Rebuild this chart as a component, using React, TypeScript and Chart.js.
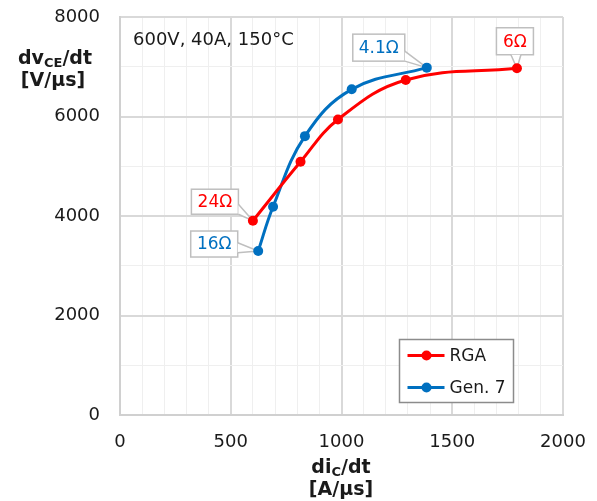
import React, { useEffect, useRef } from "react";
import { Chart, registerables } from "chart.js";

Chart.register(...registerables);

// ---- data ----
const rgaX = [600, 815, 984, 1290, 1792];
const rgaY = [3905, 5090, 5940, 6735, 6970];
const gen7X = [624, 691, 835, 1046, 1385];
const gen7Y = [3296, 4187, 5605, 6546, 6982];
const seriesNames = ["RGA", "Gen. 7"];
const rgaCallouts = ["24Ω", "", "", "", "6Ω"];
const gen7Callouts = ["16Ω", "", "", "", "4.1Ω"];
const xTicks = [0, 500, 1000, 1500, 2000];
const yTicks = [0, 2000, 4000, 6000, 8000];
const conditionText = "600V, 40A, 150°C";

// ---- styles ----
const RED = "#FF0000";
const BLUE = "#0070C0";
const FONT = "'DejaVu Sans', Verdana, sans-serif";
const TEXT = "#1a1a1a";

// callout box placement (offset of box centre from its point, box size)
const calloutLayout: Record<string, { dx: number; dy: number; w: number; h: number }> = {
  "0-0": { dx: -38, dy: -19, w: 47, h: 25 },
  "0-4": { dx: -2, dy: -27, w: 37, h: 27 },
  "1-0": { dx: -44, dy: -7, w: 47, h: 26 },
  "1-4": { dx: -48, dy: -20, w: 52, h: 27 },
};

function drawCallout(ctx: CanvasRenderingContext2D, px: number, py: number, cx: number, cy: number, w: number, h: number, text: string, color: string) {
  const l = cx - w / 2, r = cx + w / 2, t = cy - h / 2, b = cy + h / 2;
  const dx = px - cx, dy = py - cy;
  const sx = dx !== 0 ? (w / 2) / Math.abs(dx) : Infinity;
  const sy = dy !== 0 ? (h / 2) / Math.abs(dy) : Infinity;
  let b1: [number, number], b2: [number, number];
  const half = 5;
  if (sx < sy) {
    const ex = dx > 0 ? r : l;
    let ey = cy + dy * sx;
    ey = Math.min(Math.max(ey, t + half), b - half);
    b1 = [ex, ey - half];
    b2 = [ex, ey + half];
  } else {
    const ey = dy > 0 ? b : t;
    let ex = cx + dx * sy;
    ex = Math.min(Math.max(ex, l + half), r - half);
    b1 = [ex - half, ey];
    b2 = [ex + half, ey];
  }
  ctx.save();
  ctx.lineWidth = 1.5;
  ctx.strokeStyle = "#BFBFBF";
  ctx.fillStyle = "#FFFFFF";
  ctx.fillRect(l, t, w, h);
  ctx.strokeRect(l, t, w, h);
  ctx.beginPath();
  ctx.moveTo(b1[0], b1[1]);
  ctx.lineTo(px, py);
  ctx.lineTo(b2[0], b2[1]);
  ctx.closePath();
  ctx.fill();
  ctx.beginPath();
  ctx.moveTo(b1[0], b1[1]);
  ctx.lineTo(px, py);
  ctx.lineTo(b2[0], b2[1]);
  ctx.stroke();
  ctx.fillStyle = color;
  ctx.font = `17px ${FONT}`;
  ctx.textAlign = "center";
  ctx.textBaseline = "middle";
  ctx.fillText(text, cx, cy + 1);
  ctx.restore();
}

const annotationPlugin = {
  id: "annotations",
  beforeDatasetsDraw(chart: any) {
    const ctx: CanvasRenderingContext2D = chart.ctx;
    const xs = chart.scales.x, ys = chart.scales.y;
    const sets = [
      { X: rgaX, Y: rgaY, L: rgaCallouts, c: RED },
      { X: gen7X, Y: gen7Y, L: gen7Callouts, c: BLUE },
    ];
    sets.forEach((s, di) => {
      s.L.forEach((txt, i) => {
        if (!txt) return;
        const lay = calloutLayout[`${di}-${i}`];
        const px = xs.getPixelForValue(s.X[i]);
        const py = ys.getPixelForValue(s.Y[i]);
        drawCallout(ctx, px, py, px + lay.dx, py + lay.dy, lay.w, lay.h, txt, s.c);
      });
    });
    ctx.save();
    ctx.fillStyle = TEXT;
    ctx.font = `18px ${FONT}`;
    ctx.textAlign = "left";
    ctx.textBaseline = "middle";
    ctx.fillText(conditionText, chart.chartArea.left + 13, chart.chartArea.top + 23);
    ctx.restore();
  },
  afterDraw(chart: any) {
    const ctx: CanvasRenderingContext2D = chart.ctx;
    // legend
    const lx = 399.5, ly = 339.5, lw = 114, lh = 63;
    ctx.save();
    ctx.fillStyle = "#FFFFFF";
    ctx.fillRect(lx, ly, lw, lh);
    ctx.strokeStyle = "#8C8C8C";
    ctx.lineWidth = 1.5;
    ctx.strokeRect(lx, ly, lw, lh);
    const cols = [RED, BLUE];
    seriesNames.forEach((name, i) => {
      const y = ly + 16 + i * 32;
      ctx.strokeStyle = cols[i];
      ctx.lineWidth = 3;
      ctx.beginPath();
      ctx.moveTo(lx + 8, y);
      ctx.lineTo(lx + 45, y);
      ctx.stroke();
      ctx.fillStyle = cols[i];
      ctx.beginPath();
      ctx.arc(lx + 27, y, 5, 0, Math.PI * 2);
      ctx.fill();
      ctx.fillStyle = TEXT;
      ctx.font = `17px ${FONT}`;
      ctx.textAlign = "left";
      ctx.textBaseline = "middle";
      ctx.fillText(name, lx + 50, y + 1);
    });
    // axis titles with subscripts
    const drawSub = (parts: { t: string; sub?: boolean }[], cx: number, baseline: number) => {
      const big = `bold 19px ${FONT}`;
      const small = `bold 13px ${FONT}`;
      let total = 0;
      parts.forEach((p) => {
        ctx.font = p.sub ? small : big;
        total += ctx.measureText(p.t).width;
      });
      let x = cx - total / 2;
      ctx.textAlign = "left";
      ctx.textBaseline = "alphabetic";
      ctx.fillStyle = TEXT;
      parts.forEach((p) => {
        ctx.font = p.sub ? small : big;
        ctx.fillText(p.t, x, p.sub ? baseline + 3 : baseline);
        x += ctx.measureText(p.t).width;
      });
    };
    drawSub([{ t: "dv" }, { t: "CE", sub: true }, { t: "/dt" }], 55, 64);
    drawSub([{ t: "[V/μs]" }], 53, 86);
    drawSub([{ t: "di" }, { t: "C", sub: true }, { t: "/dt" }], 341, 473);
    drawSub([{ t: "[A/μs]" }], 341, 495);
    ctx.restore();
  },
};

const zeroPad = (s: any) => {
  s.paddingTop = 0;
  s.paddingBottom = 0;
  s.paddingLeft = 0;
  s.paddingRight = 0;
};

export default function App() {
  const ref = useRef<HTMLCanvasElement>(null);
  useEffect(() => {
    if (!ref.current) return;
    const chart = new Chart(ref.current, {
      type: "scatter",
      data: {
        datasets: [
          {
            label: seriesNames[0],
            data: rgaX.map((x, i) => ({ x, y: rgaY[i] })),
            showLine: true,
            borderColor: RED,
            backgroundColor: RED,
            borderWidth: 3,
            pointRadius: 5,
            pointBorderWidth: 0,
            tension: 0.4,
          },
          {
            label: seriesNames[1],
            data: gen7X.map((x, i) => ({ x, y: gen7Y[i] })),
            showLine: true,
            borderColor: BLUE,
            backgroundColor: BLUE,
            borderWidth: 3,
            pointRadius: 5,
            pointBorderWidth: 0,
            tension: 0.4,
          },
        ],
      },
      options: {
        animation: false,
        responsive: false,
        layout: { padding: { left: 0, top: 17, right: 34, bottom: 0 } },
        plugins: { legend: { display: false }, tooltip: { enabled: false } },
        scales: {
          x: {
            type: "linear",
            min: xTicks[0],
            max: xTicks[xTicks.length - 1],
            afterFit: (s: any) => { s.height = 86; zeroPad(s); },
            ticks: {
              stepSize: 100,
              autoSkip: false,
              maxRotation: 0,
              padding: 17,
              color: TEXT,
              font: { family: FONT, size: 18 },
              callback: (v: any) => (xTicks.includes(Number(v)) ? String(v) : ""),
            },
            grid: {
              drawTicks: false,
              color: (c: any) => (c.tick && xTicks.includes(c.tick.value) ? "#D9D9D9" : "#EFEFEF"),
              lineWidth: (c: any) => (c.tick && xTicks.includes(c.tick.value) ? 2 : 1),
            },
            border: { color: "#D0D0D0", width: 2 },
          },
          y: {
            type: "linear",
            min: yTicks[0],
            max: yTicks[yTicks.length - 1],
            afterFit: (s: any) => { s.width = 120; zeroPad(s); },
            ticks: {
              stepSize: 1000,
              autoSkip: false,
              padding: 20,
              color: TEXT,
              font: { family: FONT, size: 18 },
              callback: (v: any) => (yTicks.includes(Number(v)) ? String(v) : ""),
            },
            grid: {
              drawTicks: false,
              color: (c: any) => (c.tick && yTicks.includes(c.tick.value) ? "#D9D9D9" : "#EFEFEF"),
              lineWidth: (c: any) => (c.tick && yTicks.includes(c.tick.value) ? 2 : 1),
            },
            border: { color: "#D0D0D0", width: 2 },
          },
        },
      },
      plugins: [annotationPlugin],
    });
    return () => chart.destroy();
  }, []);
  return (
    <div style={{ position: "absolute", left: 0, top: 0, width: 597, height: 501, background: "#fff" }}>
      <canvas ref={ref} width={597} height={501} style={{ display: "block" }} />
    </div>
  );
}
